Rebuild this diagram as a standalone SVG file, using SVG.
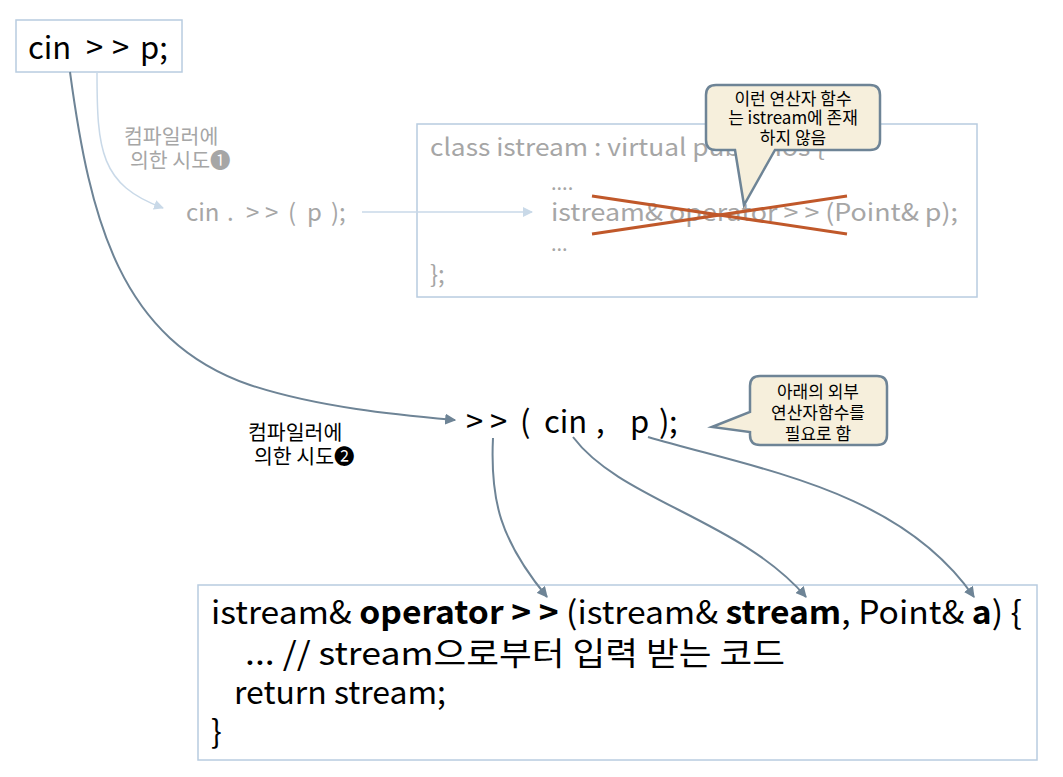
<svg xmlns="http://www.w3.org/2000/svg" width="1063" height="777" viewBox="0 0 1063 777">
<style>
text{font-family:"Noto Sans CJK KR","Noto Sans",sans-serif;}
.box{fill:#fff;stroke:#b8cce0;stroke-width:1.5;}
.gray{fill:#a6a6a6;}
.blk{fill:#000;}
.light{fill:none;stroke:#c9d9e8;stroke-width:1.5;}
.dark{fill:none;stroke:#6e8496;stroke-width:2;}
.call{fill:#f6efdc;stroke:#6e8496;stroke-width:2.5;}
.ct{font-size:17px;text-anchor:middle;fill:#000;}
.lbl{font-size:20.5px;}
</style>
<defs>
<marker id="al" viewBox="0 0 10 10" refX="9" refY="5" markerWidth="10" markerHeight="10" markerUnits="userSpaceOnUse" orient="auto"><path d="M0,0 L10,5 L0,10 z" fill="#c9d9e8"/></marker>
<marker id="ad" viewBox="0 0 10 10" refX="9" refY="5" markerWidth="11" markerHeight="11" markerUnits="userSpaceOnUse" orient="auto"><path d="M0,0 L10,5 L0,10 z" fill="#6e8496"/></marker>
</defs>

<g id="class-box">
<rect class="box" x="417" y="124" width="560" height="173"/>
<text class="gray" x="430" y="156" font-size="24" textLength="395" lengthAdjust="spacingAndGlyphs">class istream : virtual public ios {</text>
<text class="gray" x="551" y="190" font-size="20">....</text>
<text class="gray" x="551" y="221" font-size="24" textLength="407" lengthAdjust="spacingAndGlyphs">istream&amp; operator &gt; &gt; (Point&amp; p);</text>
<text class="gray" x="551" y="251" font-size="20">...</text>
<text class="gray" x="430" y="283" font-size="24">};</text>
</g>

<g id="cross">
<line x1="592" y1="196" x2="847" y2="234" stroke="#c0582a" stroke-width="3"/>
<line x1="592" y1="234" x2="847" y2="196" stroke="#c0582a" stroke-width="3"/>
</g>

<g id="cin-box">
<rect class="box" x="16" y="20" width="166" height="52"/>
<text class="blk" y="59" font-size="31"><tspan x="28">cin</tspan><tspan x="86">&gt;</tspan><tspan x="112">&gt;</tspan><tspan x="140">p;</tspan></text>
</g>

<g id="label1">
<text class="gray lbl" x="124" y="144">컴파일러에</text>
<text class="gray lbl" x="130" y="168">의한 시도❶</text>
</g>

<g id="member-call">
<text class="gray" y="221" font-size="24"><tspan x="186">cin</tspan><tspan x="227">.</tspan><tspan x="246">&gt;</tspan><tspan x="265">&gt;</tspan><tspan x="288">(</tspan><tspan x="307">p</tspan><tspan x="331">)</tspan><tspan x="339">;</tspan></text>
</g>

<g id="callout1">
<path class="call" d="M716,85 H870 Q880,85 880,95 V140 Q880,150 870,150 H775 L744,205 L735,150 H716 Q706,150 706,140 V95 Q706,85 716,85 Z"/>
<text class="ct" x="793" y="105">이런 연산자 함수</text>
<text class="ct" x="793" y="124">는 istream에 존재</text>
<text class="ct" x="793" y="144">하지 않음</text>
</g>

<g id="label2">
<text class="blk lbl" x="248" y="440">컴파일러에</text>
<text class="blk lbl" x="254" y="464">의한 시도❷</text>
</g>

<g id="func-call">
<text class="blk" y="433" font-size="31"><tspan x="466">&gt;</tspan><tspan x="490">&gt;</tspan><tspan x="520">(</tspan><tspan x="544">cin</tspan><tspan x="596">,</tspan><tspan x="630">p</tspan><tspan x="659">)</tspan><tspan x="669">;</tspan></text>
</g>

<g id="callout2">
<path class="call" d="M760,376 H877 Q887,376 887,386 V435 Q887,445 877,445 H760 Q750,445 750,435 V432 L712,427 L750,412 V386 Q750,376 760,376 Z"/>
<text class="ct" x="818" y="398">아래의 외부</text>
<text class="ct" x="818" y="419">연산자함수를</text>
<text class="ct" x="818" y="440">필요로 함</text>
</g>

<g id="func-box">
<rect class="box" x="198" y="585" width="839" height="175"/>
<text class="blk" x="211" y="624" font-size="32" textLength="811" lengthAdjust="spacingAndGlyphs">istream&amp; <tspan font-weight="bold">operator &gt; &gt;</tspan> (istream&amp; <tspan font-weight="bold">stream</tspan>, Point&amp; <tspan font-weight="bold">a</tspan>) {</text>
<text class="blk" x="245" y="665" font-size="32" textLength="540" lengthAdjust="spacingAndGlyphs">... // stream으로부터 입력 받는 코드</text>
<text class="blk" x="234" y="704" font-size="32" textLength="212" lengthAdjust="spacingAndGlyphs">return stream;</text>
<text class="blk" x="211" y="743" font-size="32">}</text>
</g>

<g id="connectors">
<path class="light" d="M97,72 C97,150 100,185 163,208" marker-end="url(#al)"/>
<line class="light" x1="362" y1="212" x2="532" y2="212" marker-end="url(#al)"/>
<path class="dark" d="M70,72 C90,220 120,340 250,385 C320,408 400,415 455,420" marker-end="url(#ad)"/>
<path class="dark" d="M493,438 C490,500 500,540 547,597" marker-end="url(#ad)"/>
<path class="dark" d="M573,437 C620,500 740,520 806,597" marker-end="url(#ad)"/>
<path class="dark" d="M648,437 C760,470 900,490 974,597" marker-end="url(#ad)"/>
</g>
</svg>
